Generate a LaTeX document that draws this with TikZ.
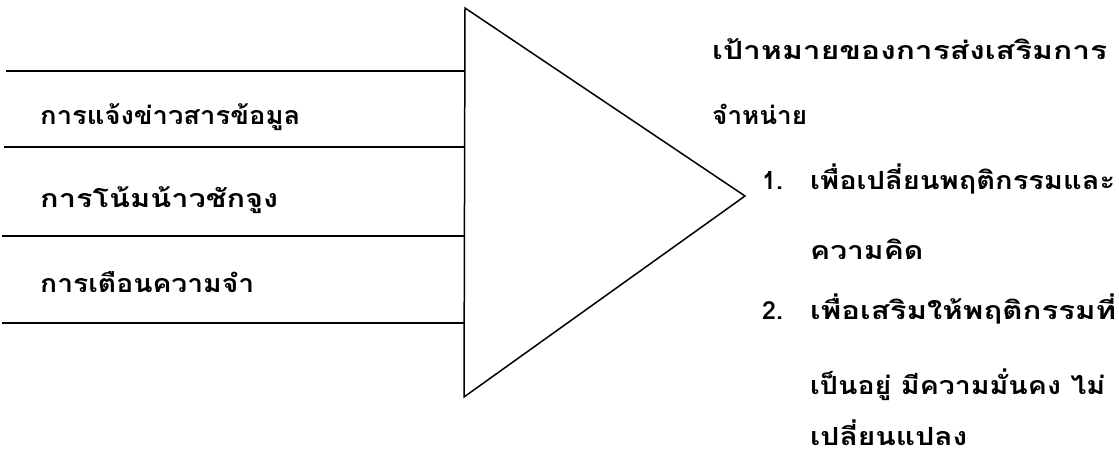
\documentclass[tikz,border=0pt]{standalone}
\usepackage{fontspec}
\usepackage{graphicx}
\newfontfamily\thaifont[Script=Thai]{Loma}
\newcommand{\fitw}[2]{\resizebox{#1pt}{\height}{#2}}
\begin{document}
\begin{tikzpicture}[x=1pt,y=-1pt,
  txt/.style={anchor=base west,inner sep=0pt,font=\thaifont\bfseries\fontsize{25}{30}\selectfont},
  bar/.style={line width=1.8pt},
  tri/.style={line width=1.5pt,line join=miter}]
\useasboundingbox (0,0) rectangle (1119,455);
% triangle
\coordinate (T) at (465,8);
\coordinate (B) at (464,397);
\coordinate (A) at (745,196);
\draw[tri] (T) -- (A) -- (B) -- cycle;
% horizontal lines
\foreach \i/\y/\s in {1/71/6,2/147/4,3/236/2,4/323/2}{
  \coordinate (L\i) at (\s,\y);
  \coordinate (R\i) at (464,\y);
  \draw[bar] (L\i) -- (R\i);
}
% left labels
\node[txt] (a1) at (40,124) {\fitw{260}{การแจ้งข่าวสารข้อมูล}};
\node[txt] (a2) at (40,207) {\fitw{238}{การโน้มน้าวชักจูง}};
\node[txt] (a3) at (40,292) {\fitw{214}{การเตือนความจำ}};
% right text
\node[txt] (g1) at (712,59) {\fitw{395}{เป้าหมายของการส่งเสริมการ}};
\node[txt] (g2) at (712,124) {\fitw{95}{จำหน่าย}};
\node[txt] (k1) at (762,189) {1.};
\node[txt] (n1) at (810,189) {\fitw{305}{เพื่อเปลี่ยนพฤติกรรมและ}};
\node[txt] (n1b) at (810,259) {\scalebox{1.2}[1]{ความคิด}};
\node[txt] (k2) at (762,319) {2.};
\node[txt] (n2) at (810,319) {\fitw{306}{เพื่อเสริมให้พฤติกรรมที่}};
\node[txt] (n2b) at (810,394) {\fitw{295}{เป็นอยู่ มีความมั่นคง ไม่}};
\node[txt] (n2c) at (810,445) {\scalebox{1.2}[1]{เปลี่ยนแปลง}};
\end{tikzpicture}
\end{document}
